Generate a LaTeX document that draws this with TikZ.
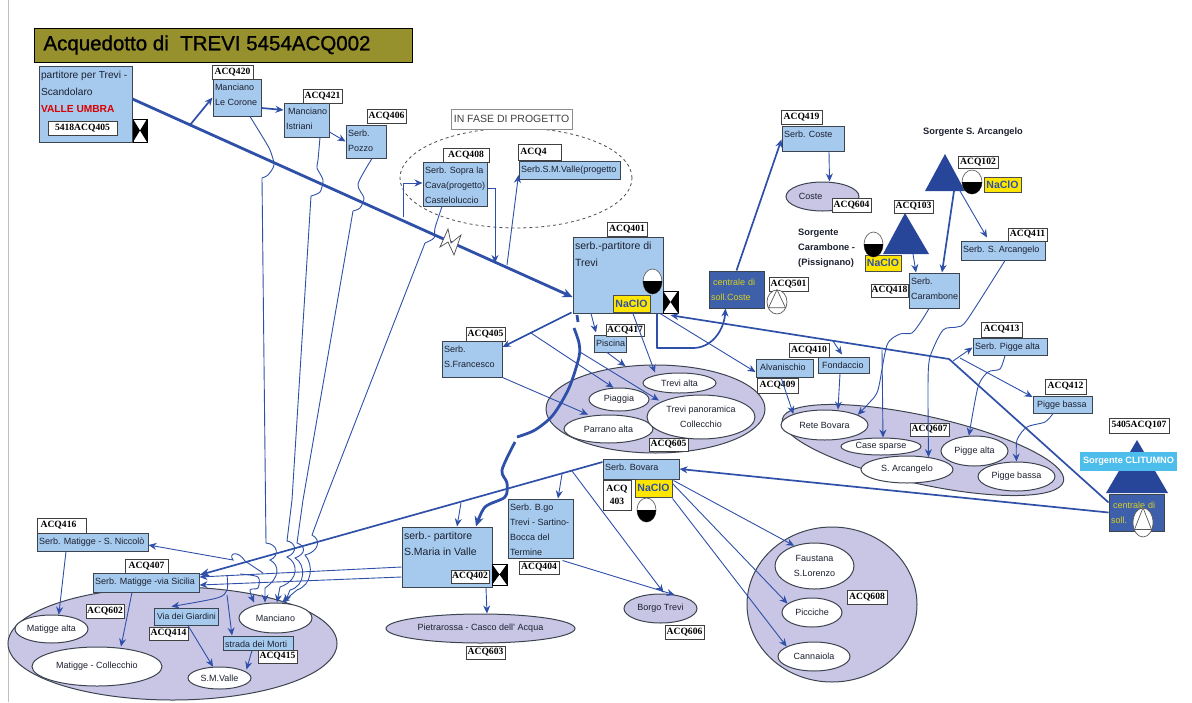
\documentclass[tikz,border=0pt]{standalone}
\usepackage{fontspec}
\setmainfont{Liberation Sans}
\newfontfamily\lserif{Liberation Serif}
\newfontfamily\titlef[FakeBold=1]{Liberation Sans}
\usetikzlibrary{arrows.meta,shapes.geometric,calc}
\definecolor{pipe}{HTML}{2F50A8}
\definecolor{lblue}{HTML}{A6CAEE}
\definecolor{lilac}{HTML}{C9C6E5}
\definecolor{dkblue}{HTML}{27469A}
\definecolor{midblue}{HTML}{3E60AA}
\definecolor{olive}{HTML}{96902D}
\definecolor{edge}{HTML}{3C4450}
\definecolor{ink}{HTML}{1C2030}
\definecolor{yellowt}{HTML}{D8D020}
\definecolor{skyb}{HTML}{4DBDEB}
\definecolor{naclof}{HTML}{FFE600}
\tikzset{
 lab/.style={draw=black!75,fill=white,line width=.8pt,inner sep=0pt,align=center,font=\lserif\bfseries\fontsize{9.6}{13}\selectfont,text=black},
 bx/.style={draw=edge,fill=lblue,line width=1pt,inner sep=0pt,text=ink},
 big/.style={ellipse,draw=edge,fill=lilac,line width=1pt,inner sep=0pt},
 wht/.style={ellipse,draw=edge,fill=white,line width=1pt,inner sep=0pt,align=center,text=ink,font=\fontsize{9}{15}\selectfont},
 lil/.style={ellipse,draw=edge,fill=lilac,line width=1pt,inner sep=0pt,align=center,text=ink,font=\fontsize{9}{15}\selectfont},
 naclo/.style={draw=black!70,fill=naclof,line width=.8pt,inner sep=0pt,text=pipe,font=\bfseries\fontsize{10.5}{12}\selectfont},
 tanko/.style={ellipse,draw=black!60,fill=white,line width=.7pt,inner sep=0pt},
 thinp/.style={draw=pipe,line width=.9pt},
 thina/.style={thinp,-{Stealth[length=8pt,width=7pt]}},
 medp/.style={draw=pipe,line width=1.7pt,line join=round},
 meda/.style={medp,-{Stealth[length=8pt,width=7pt]}},
 thkp/.style={draw=pipe,line width=2.8pt,line join=round},
 thka/.style={thkp,-{Stealth[length=10pt,width=9pt]}},
 solltext/.style={draw=edge,fill=midblue,inner sep=0pt,text=yellowt,align=left,font=\fontsize{9}{15}\selectfont}
}
% generic node from pixel corners
\newcommand\nd[7][]{%
 \pgfmathsetmacro\ndw{#5-#3}\pgfmathsetmacro\ndh{#6-#4}%
 \pgfmathsetmacro\ndx{(#3+#5)/2}\pgfmathsetmacro\ndy{(#4+#6)/2}%
 \node[minimum width=\ndw pt,minimum height=\ndh pt,#1] (#2) at (\ndx,\ndy) {#7};}
% box with text at top left
\newcommand\bxx[7][\fontsize{9}{15}\selectfont]{%
 \pgfmathsetmacro\ndw{#5-#3}\pgfmathsetmacro\ndh{#6-#4}%
 \pgfmathsetmacro\ndx{(#3+#5)/2}\pgfmathsetmacro\ndy{(#4+#6)/2}%
 \node[bx,minimum width=\ndw pt,minimum height=\ndh pt,font=#1] (#2) at (\ndx,\ndy)
  {\parbox[c][\dimexpr\ndh pt-2pt\relax][t]{\dimexpr\ndw pt-4pt\relax}{\raggedright\strut #7}};}
% tank: half black ellipse
\newcommand\tank[5]{%
 \pgfmathsetmacro\ndw{#4-#2}\pgfmathsetmacro\ndh{#5-#3}%
 \pgfmathsetmacro\ndx{(#2+#4)/2}\pgfmathsetmacro\ndy{(#3+#5)/2}%
 \node[tanko,minimum width=\ndw pt,minimum height=\ndh pt] (#1) at (\ndx,\ndy) {};
 \begin{scope}\clip (#2,\ndy) rectangle (#4,#5);
 \fill[black] (#1.center) ellipse [x radius=\ndw pt/2,y radius=\ndh pt/2];\end{scope}}
% valve
\newcommand\valve[5]{%
 \pgfmathsetmacro\ndw{#4-#2}\pgfmathsetmacro\ndh{#5-#3}%
 \pgfmathsetmacro\ndx{(#2+#4)/2}\pgfmathsetmacro\ndy{(#3+#5)/2}%
 \node[draw=black,fill=white,line width=.5pt,inner sep=0pt,minimum width=\ndw pt,minimum height=\ndh pt] (#1) at (\ndx,\ndy) {};
 \fill[black] (#2,#3) -- (#1.center) -- (#2,#5) -- cycle (#4,#3) -- (#1.center) -- (#4,#5) -- cycle;}
% pump
\newcommand\pump[5]{%
 \pgfmathsetmacro\ndw{#4-#2}\pgfmathsetmacro\ndh{#5-#3}%
 \pgfmathsetmacro\ndx{(#2+#4)/2}\pgfmathsetmacro\ndy{(#3+#5)/2}%
 \pgfmathsetmacro\ndb{#3+0.74*\ndh}%
 \node[ellipse,draw=black!65,fill=white,line width=.7pt,inner sep=0pt,minimum width=\ndw pt,minimum height=\ndh pt] (#1) at (\ndx,\ndy) {};
 \draw[black!65,line width=.7pt] (#1.north) -- (#2+1.5,\ndb) -- (#4-1.5,\ndb) -- cycle;}
\begin{document}
\begin{tikzpicture}[x=1pt,y=-1pt]
\useasboundingbox (0,0) rectangle (1192,702);
\draw[black!25,line width=.8pt] (8,0) -- (8,702);
% title
\nd[draw=black,fill=olive,line width=.8pt,inner sep=0pt,text=black,font=\titlef\fontsize{20.5}{24}\selectfont]{title}{34}{28}{412}{62}{\hspace*{-32pt}Acquedotto di\ \ TREVI 5454ACQ002}
% large areas
\nd[big]{a602}{8}{587}{337}{700}{}
\nd[big]{a605}{546}{365}{765}{453}{}
\node[big,minimum width=288pt,minimum height=68pt,rotate=-12.5] (a607) at (923,450) {};
\nd[big]{a608}{747}{527}{917}{682}{}
\nd[lil]{coste}{786}{182}{859}{211}{Coste\hspace*{24pt}}
\nd[lil]{pietra}{386}{614}{575}{643}{Pietrarossa - Casco dell' Acqua}
\nd[lil]{borgo}{624}{594}{697}{623}{Borgo Trevi}
% white areas
\nd[wht]{tal}{643}{373}{716}{393}{Trevi alta}
\nd[wht]{pia}{589}{388}{649}{411}{Piaggia}
\nd[wht]{par}{564}{415}{653}{443}{Parrano alta}
\nd[wht]{pan}{647}{395}{755}{439}{Trevi panoramica\\Collecchio}
\nd[wht]{fau}{775}{543}{854}{589}{Faustana\\S.Lorenzo}
\nd[wht]{pic}{782}{598}{842}{627}{Picciche}
\nd[wht]{can}{778}{642}{850}{671}{Cannaiola}
\nd[wht]{ret}{781}{410}{868}{440}{Rete Bovara}
\nd[wht]{cas}{841}{438}{921}{455}{Case sparse}
\nd[wht]{sar}{861}{456}{953}{483}{S. Arcangelo}
\nd[wht]{pal}{941}{436}{1008}{466}{Pigge alta}
\nd[wht]{pba}{978}{462}{1055}{491}{Pigge bassa}
\nd[wht]{mal}{15}{615}{88}{643}{Matigge alta}
\nd[wht]{mco}{32}{647}{162}{686}{Matigge - Collecchio}
\nd[wht]{man}{239}{603}{312}{633}{Manciano}
\nd[wht]{smv}{188}{667}{251}{689}{S.M.Valle}
% dashed project area
\node[ellipse,draw=black!70,dashed,line width=.8pt,minimum width=232pt,minimum height=100pt,inner sep=0pt] (prog) at (516,178) {};
\nd[draw=black!45,fill=white,line width=.8pt,inner sep=0pt,text=black!75,font=\fontsize{10.5}{12}\selectfont]{fase}{451}{109}{572}{129}{IN FASE DI PROGETTO}
% boxes
\bxx[\fontsize{10.2}{17}\selectfont]{pvu}{39}{66}{132}{142}{partitore per Trevi -\\Scandolaro\\{\color{red!85!black}\bfseries VALLE UMBRA}}
\bxx{mc}{213}{79}{261}{116}{Manciano\\Le Corone}
\bxx{mi}{284}{103}{329}{137}{\mbox{\hspace*{2pt}Manciano}\\Istriani}
\bxx{pz}{346}{125}{386}{158}{Serb.\\Pozzo}
\bxx{s408}{423}{162}{487}{206}{Serb. Sopra la\\Cava(progetto)\\Casteloluccio}
\bxx{s4}{519}{161}{620}{179}{Serb.S.M.Valle(progetto}
\bxx[\fontsize{10.5}{17}\selectfont]{s401}{573}{237}{663}{313}{serb.-partitore di\\Trevi}
\bxx{s419}{782}{126}{844}{151}{Serb. Coste}
\bxx{car}{909}{273}{959}{308}{Serb.\\Carambone}
\bxx{sarc}{961}{241}{1045}{260}{Serb. S. Arcangelo}
\bxx{spa}{973}{338}{1047}{355}{Serb. Pigge alta}
\bxx{spb}{1033}{396}{1092}{413}{\hspace*{2pt}Pigge bassa}
\bxx{alv}{756}{359}{813}{377}{\hspace*{2pt}Alvanischio}
\bxx{fon}{818}{357}{869}{373}{\hspace*{2pt}Fondaccio}
\bxx{pis}{594}{335}{626}{352}{Piscina}
\bxx{sfr}{442}{341}{502}{377}{Serb.\\S.Francesco}
\bxx{sbov}{603}{459}{679}{479}{Serb. Bovara}
\bxx[\fontsize{10.5}{16}\selectfont]{s402}{402}{527}{492}{587}{serb.- partitore\\S.Maria in Valle}
\bxx{s404}{508}{499}{573}{558}{Serb. B.go\\Trevi - Sartino-\\Bocca del\\Termine}
\bxx{s416}{37}{533}{148}{551}{Serb. Matigge - S. Niccolò}
\bxx{smat}{93}{573}{199}{592}{Serb. Matigge -via Sicilia}
\bxx[\fontsize{8.7}{15}\selectfont]{gia}{154}{608}{218}{625}{\mbox{\hspace*{1pt}Via dei Giardini}}
\bxx{mor}{223}{636}{293}{650}{strada dei Morti}
% centrale
\nd[solltext,line width=1pt,text width=51pt]{cent}{709}{271}{764}{308}{\hspace*{2pt}centrale di\\soll.Coste}
% triangles
\coordinate (ta) at (945,154);\coordinate (tb) at (925,191);\coordinate (tc) at (965,191);
\fill[dkblue] (ta) -- (tb) -- (tc) -- cycle;
\coordinate (ua) at (905,213);\coordinate (ub) at (883,254);\coordinate (uc) at (929,254);
\fill[dkblue] (ua) -- (ub) -- (uc) -- cycle;
% Clitumno
\coordinate (ra) at (1137,440);\coordinate (rb) at (1106,493);\coordinate (rc) at (1168,493);
\fill[dkblue] (ra) -- (rb) -- (rc) -- cycle;
\nd[solltext,line width=.9pt,text width=51pt]{cli}{1109}{494}{1164}{531}{\hspace*{2pt}centrale di\\soll.}
\nd[fill=skyb,inner sep=0pt,text=white,font=\bfseries\fontsize{9.2}{12}\selectfont]{clit}{1080}{452}{1177}{471}{Sorgente CLITUMNO}
% labels
\nd[lab]{l405x}{48}{121}{117}{135}{5418ACQ405}
\nd[lab]{l420}{212}{65}{253}{79}{ACQ420}
\nd[lab]{l421}{303}{89}{342}{103}{ACQ421}
\nd[lab]{l406}{367}{109}{406}{123}{ACQ406}
\nd[lab]{l408}{443}{148}{489}{162}{ACQ408}
\nd[lab]{l4}{518}{144}{561}{160}{\hspace*{-12pt}ACQ4}
\nd[lab]{l401}{607}{222}{647}{236}{ACQ401}
\nd[lab]{l419}{781}{110}{822}{124}{ACQ419}
\nd[lab]{l604}{832}{198}{871}{212}{ACQ604}
\nd[lab]{l501}{769}{277}{808}{291}{ACQ501}
\nd[lab]{l102}{958}{156}{998}{168}{ACQ102}
\nd[lab]{l103}{894}{200}{933}{213}{ACQ103}
\nd[lab]{l418}{871}{284}{908}{297}{ACQ418}
\nd[lab]{l411}{1008}{228}{1047}{241}{ACQ411}
\nd[lab]{l413}{981}{322}{1022}{337}{ACQ413}
\nd[lab]{l412}{1045}{379}{1086}{394}{ACQ412}
\nd[lab]{l410}{789}{343}{829}{357}{ACQ410}
\nd[lab]{l409}{757}{378}{798}{393}{ACQ409}
\nd[lab]{l417}{606}{324}{644}{336}{ACQ417}
\nd[lab]{l405}{466}{327}{505}{341}{ACQ405}
\nd[lab]{l605}{649}{438}{688}{451}{ACQ605}
\nd[lab]{l607}{910}{423}{949}{436}{ACQ607}
\nd[lab]{l107}{1109}{418}{1169}{433}{5405ACQ107}
\nd[lab]{l403}{603}{480}{631}{510}{ACQ\\403}
\nd[lab]{l402}{451}{570}{489}{583}{ACQ402}
\nd[lab]{l404}{519}{561}{559}{574}{ACQ404}
\nd[lab]{l603}{466}{646}{505}{659}{ACQ603}
\nd[lab]{l606}{665}{625}{704}{639}{ACQ606}
\nd[lab]{l608}{847}{590}{887}{604}{ACQ608}
\nd[lab]{l416}{37}{518}{86}{533}{\hspace*{-6pt}ACQ416}
\nd[lab]{l407}{125}{559}{168}{573}{ACQ407}
\nd[lab]{l602}{86}{604}{124}{618}{ACQ602}
\nd[lab]{l414}{149}{627}{188}{640}{ACQ414}
\nd[lab]{l415}{258}{650}{297}{663}{ACQ415}
% bold captions
\node[inner sep=0pt,font=\bfseries\fontsize{9.3}{12}\selectfont,text=ink] (tsa) at (973,132) {Sorgente S. Arcangelo};
\node[inner sep=0pt,align=left,anchor=north west,font=\bfseries\fontsize{9.3}{15}\selectfont,text=ink] (tsc) at (798,229) {Sorgente\\Carambone -\\(Pissignano)};
% naclo
\nd[naclo]{n401}{613}{295}{650}{312}{NaClO}
\nd[naclo]{n102}{984}{177}{1021}{192}{NaClO}
\nd[naclo]{n103}{865}{255}{901}{271}{NaClO}
\nd[naclo]{nbov}{635}{479}{672}{497}{NaClO}
% tanks, valves, pumps
\tank{t401}{643}{269}{662}{294}
\tank{t102}{962}{170}{982}{194}
\tank{t103}{864}{232}{883}{257}
\tank{tbov}{637}{498}{656}{522}
\valve{vvu}{133}{119}{147}{142}
\valve{v401}{663}{291}{678}{313}
\valve{v402}{492}{564}{507}{585}
\pump{p501}{767}{290}{787}{314}
\pump{pcli}{1133}{508}{1153}{537}
% ---- connectors ----
% main pipe
\draw[thka] ([yshift=5pt]pvu.east) -- ([yshift=-22pt]s401.west);
\coordinate (tap1) at (190,125);
\draw[meda] (tap1) -- (mc.west);
\draw[meda] ([yshift=-10.5pt]mc.east) -- ([yshift=10pt]mi.west);
\draw[thina] ([yshift=-12pt]mi.east) -- (pz.west);
% lightning
\draw[black!70,fill=white,line width=.7pt] (440,247) -- (448,229) -- (451,243) -- (461,235) -- (454,255) -- (448,242) -- cycle;
% project taps
\coordinate (tap2) at (403,217);\coordinate (tap3) at (495,263);\coordinate (tap4) at (507,265);
\draw[thina] (tap2) |- ([yshift=1pt]s408.west);
\draw[thina] ([yshift=-4pt]s408.east) -| (tap3);
\draw[thina] (tap4) -- ([yshift=-5pt]s4.west);
% long thin lines to Manciano
\draw[thinp] plot[smooth,tension=.45] coordinates {([xshift=13pt]mc.south) (262,136) (270,150) (274,165) (268,175) (262,178)};
\draw[thina] (262,178) -- (265.5,500) -- (266,543) .. controls (278,544) and (280,556) .. (270,560) .. controls (280,565) and (280,578) .. (265,588) -- ([xshift=-10.5pt]man.north);
\draw[thinp] plot[smooth,tension=.45] coordinates {([xshift=13.5pt]mi.south) (318,160) (317,168) (323,180) (320,192) (311,196)};
\draw[thina] (311,196) -- (292,500) -- (287,541) .. controls (295,542) and (299,552) .. (287,557) .. controls (298,562) and (300,580) .. (280,587) -- ([xshift=1.5pt]man.north);
\draw[thinp] plot[smooth,tension=.45] coordinates {([xshift=6pt]pz.south) (358,184) (364,198) (360,208) (353,211)};
\draw[thina] (353,211) -- (303,500) -- (297,543) .. controls (306,546) and (306,554) .. (295,558) .. controls (306,564) and (306,586) .. (290,590) -- ([xshift=9.5pt]man.north);
\draw[thinp] plot[smooth,tension=.45] coordinates {([xshift=-13pt]s408.south) (435,228) (434,238) (425,243)};
\draw[thina] (425,243) -- (325,500) -- (312,535) .. controls (322,540) and (318,552) .. (305,555) .. controls (314,565) and (312,585) .. (297,590) -- ([xshift=6.5pt]man.north);
% s419 group
\draw[meda] (cent.north) -- ([yshift=-1pt]s419.west);
\draw[thina] ([xshift=16pt]s419.south) -- ([xshift=7pt]coste.north);
\coordinate (cb1) at (657,348);\coordinate (cb2) at (693,348);
\draw[meda] ([xshift=39pt]s401.south) -- (cb1) -- (cb2) .. controls (712,348) and (724,330) .. ([xshift=-11pt]cent.south);
% springs
\draw[meda] ([xshift=29pt]tb) -- ([xshift=8pt]car.north);
\draw[thina] ([xshift=30pt]ub) -- ([xshift=-18pt]car.north);
\draw[thina] ([xshift=35pt]tb) -- ([xshift=-16pt,yshift=3pt]sarc.north);
% Clitumno main
\coordinate (jun) at (949,359);
\draw[meda] ([yshift=10pt]cli.west) -- (jun) -- ([yshift=-2pt]v401.south);
\draw[meda] (cli.west) -- (sbov.east);
\draw[thina] ([xshift=4pt,yshift=-2pt]jun) -- ([yshift=-1pt]spa.west);
\draw[thina] ([xshift=11pt,yshift=1pt]jun) -- ([yshift=7.5pt]spb.west);
\coordinate (tap5) at (833,341);\coordinate (tap6) at (882,350);
\draw[thina] (tap5) -- ([xshift=-1.5pt,yshift=2pt]fon.north);
\draw[thina] (tap6) -- ([xshift=2pt]cas.north);
\draw[thina] ([xshift=42pt]s401.south) -- ([yshift=-4pt]alv.west);
\draw[thina] ([xshift=-3.5pt]alv.south) -- (ret.north west);
\draw[thina] ([xshift=-3.5pt]fon.south) -- ([xshift=13.5pt]ret.north);
\draw[thina] plot[smooth,tension=.45] coordinates {([xshift=-5pt]car.south) (922,320) (912,333) (900,334) (887,345) (878,390) (869,403) (ret.17)};
\draw[thina] plot[smooth,tension=.45] coordinates {([xshift=2pt]sarc.south) (967,320) (957,327) (943,330) (930,357) (928,385) (sar.30)};
\draw[thina] plot[smooth,tension=.45] coordinates {([xshift=-5pt]spa.south) (1000,369) (988,372) (978,387) (pal.110)};
\draw[thina] plot[smooth,tension=.45] coordinates {([xshift=-9.5pt]spb.south) (1045,422) (1027,427) (1017,440) (pba.north)};
% from 401
\draw[meda] ([xshift=-1pt,yshift=1pt]s401.south west) -- ([yshift=12pt]sfr.east);
\draw[thina] ([xshift=-27pt]s401.south) -- ([xshift=-14pt,yshift=2pt]pis.north);
\draw[thina] ([xshift=-3pt]pis.south) -- (a605.125);
\draw[thina] ([xshift=1pt]n401.south) -- ([xshift=-24.5pt]tal.north);
\draw[thina] (sfr.south east) -- ([xshift=-20.5pt]par.north);
\coordinate (tap7) at (531,333);\coordinate (tap8) at (580,352);
\draw[thina] (tap7) -- (pia.115);
\draw[thina] (tap8) -- ([xshift=-42pt,yshift=-6pt]pan.north);
% thick curve 401 -> 402
\coordinate (cur1) at (577,315);\coordinate (cur2) at (578,322);
\draw[thkp] (cur1) -- (cur2);
\draw[thkp] plot[smooth,tension=.5] coordinates {(574,328) (579,343) (579,357) (569,388) (553,415) (535,430) (517,437)};
\draw[thka] plot[smooth,tension=.5] coordinates {(515,442) (502,470) (507,483) (505,497) (485,507) ([xshift=29pt]s402.north)};
% Bovara
\draw[medp,-{Stealth[length=10pt,width=8pt]}] ([yshift=7pt]sbov.west) -- ([yshift=7.5pt]smat.east);
\coordinate (tapb1) at (572,471);\coordinate (tapb2) at (562,474);\coordinate (tapb3) at (461,503);
\draw[thina] (tapb1) -- ([xshift=3pt,yshift=1pt]borgo.north);
\draw[thina] (tapb2) -- ([xshift=17.5pt]s404.north);
\draw[thina] (tapb3) -- ([xshift=10pt]s402.north);
\draw[thina] ([xshift=-11pt,yshift=-2pt]s404.south east) -- ([xshift=-12pt,yshift=3pt]borgo.north east);
\draw[thina] ([xshift=39pt]s402.south) -- ([xshift=6.5pt]pietra.north);
\draw[thina] ([xshift=-6pt,yshift=-1pt]sbov.south east) -- (fau.135);
\draw[thina] ([xshift=-7pt,yshift=-4pt]sbov.south east) -- (pic.160);
\draw[thina] ([xshift=-7pt,yshift=-19pt]sbov.south east) -- (can.160);
% lines from 402 to Matigge
\draw[thina] ([yshift=-10pt]s402.west) -- ([yshift=5.5pt]smat.east);
\draw[thina] ([yshift=-20pt]s402.west) -- ([yshift=-2.5pt]smat.east);
\coordinate (tm1) at (263,573);\coordinate (tm2) at (227,575);\coordinate (tm3) at (227,595);\coordinate (tm4) at (240,574);
\draw[thina] (tm1) -- (245,561) .. controls (238,550) and (228,553) .. (233,560) -- ([yshift=-3pt]s416.east);
\draw[thina] plot[smooth,tension=.5] coordinates {(tm2) (227,590) (217,598) ([xshift=18pt,yshift=1pt]gia.north west)};
\draw[thina] (tm3) -- ([xshift=-26pt]mor.north);
\draw[thina] plot[smooth,tension=.5] coordinates {(tm4) (258,577) (258,588) (250,590) ([xshift=-21.5pt]man.north)};
% lower left
\draw[thina] ([xshift=-26.5pt]s416.south) -- (mal.63);
\draw[thina] ([xshift=-14pt]smat.south) -- ([xshift=24pt]mco.north);
\draw[thina] ([xshift=2pt]gia.south) -- (smv.120);
\draw[thina] ([xshift=-6pt]mor.south) -- ([xshift=27pt,yshift=-3pt]smv.north);
\end{tikzpicture}
\end{document}
